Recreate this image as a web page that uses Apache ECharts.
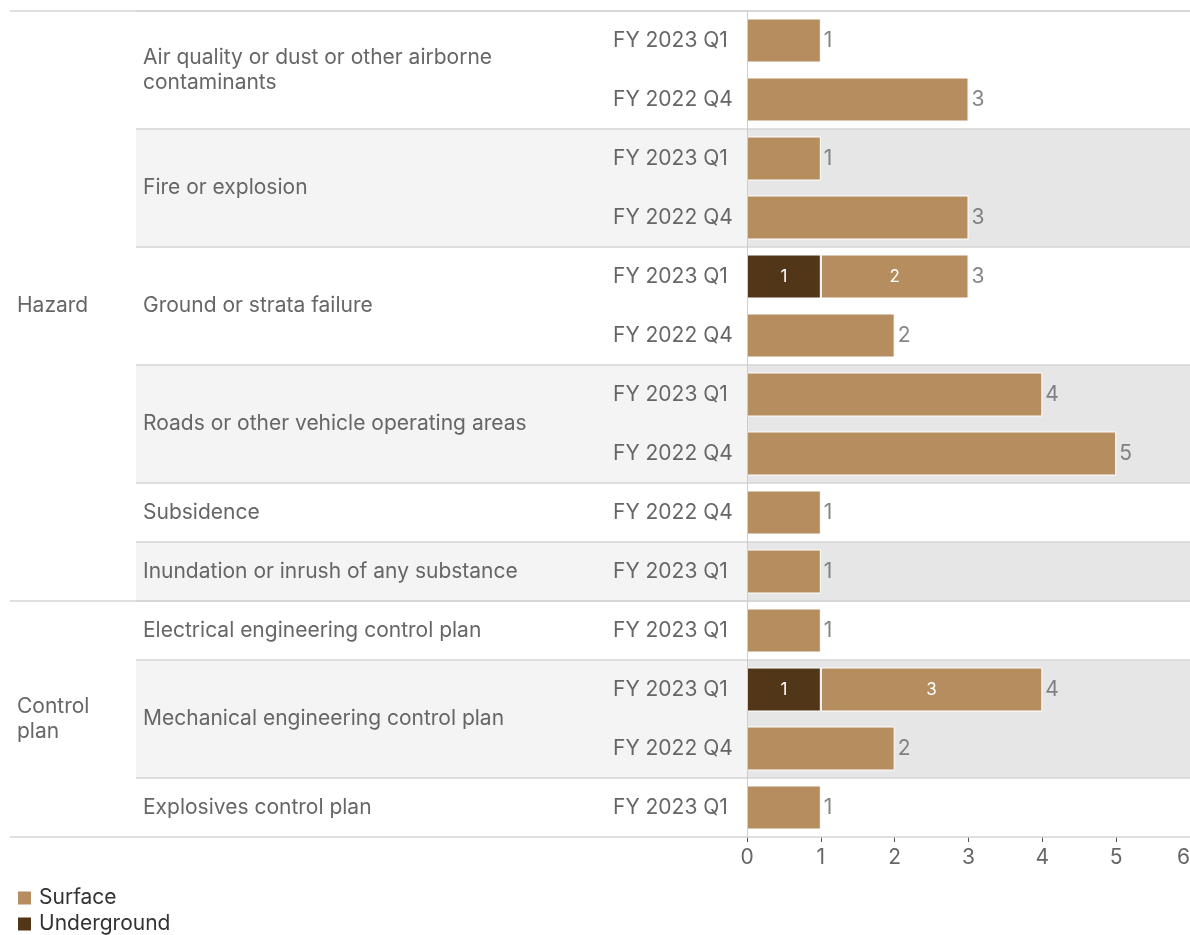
<!DOCTYPE html>
<html>
<head>
<meta charset="utf-8">
<script src="https://cdn.jsdelivr.net/npm/echarts@6/dist/echarts.min.js"></script>
<style>
  html, body { margin: 0; padding: 0; background: #fff; }
  #main { width: 1190px; height: 935px; }
</style>
</head>
<body>
<div id="main"></div>
<script>
// top level groups
var groups = ['Hazard', 'Control\nplan'];
// sub categories and the group each one is in
var subcats = [
  'Air quality or dust or other airborne\ncontaminants',
  'Fire or explosion',
  'Ground or strata failure',
  'Roads or other vehicle operating areas',
  'Subsidence',
  'Inundation or inrush of any substance',
  'Electrical engineering control plan',
  'Mechanical engineering control plan',
  'Explosives control plan'
];
var subcatGroup = [0, 0, 0, 0, 0, 0, 1, 1, 1];
// one entry per bar row
var rowSubcat = [0, 0, 1, 1, 2, 2, 3, 3, 4, 5, 6, 7, 7, 8];
var rowPeriod = [
  'FY 2023 Q1', 'FY 2022 Q4',
  'FY 2023 Q1', 'FY 2022 Q4',
  'FY 2023 Q1', 'FY 2022 Q4',
  'FY 2023 Q1', 'FY 2022 Q4',
  'FY 2022 Q4',
  'FY 2023 Q1',
  'FY 2023 Q1',
  'FY 2023 Q1', 'FY 2022 Q4',
  'FY 2023 Q1'
];
var underground = [0, 0, 0, 0, 1, 0, 0, 0, 0, 0, 0, 1, 0, 0];
var surface     = [1, 3, 1, 3, 2, 2, 4, 5, 1, 1, 1, 3, 2, 1];
var xTicks = [0, 1, 2, 3, 4, 5, 6];

var FONT = 'Inter, "Noto Sans", sans-serif';
var GREY = '#666666';
var LINE = '#d4d4d4';
var W = 1190;
var PLOT_LEFT = 747;

var chart = echarts.init(document.getElementById('main'));

// row spans for sub categories and groups
function spans(keys) {
  var out = [];
  keys.forEach(function (k, i) {
    var last = out[out.length - 1];
    if (last && last.key === k) last.end = i;
    else out.push({ key: k, start: i, end: i });
  });
  return out;
}
var subSpans = spans(rowSubcat);
var rowGroup = rowSubcat.map(function (s) { return subcatGroup[s]; });
var groupSpans = spans(rowGroup);

var rows = rowPeriod.map(function (p, i) { return String(i); });
var totals = surface.map(function (v, i) { return v + underground[i]; });

function bandY(api, start, end) {
  var h = api.size([0, 1])[1];
  var y0 = api.coord([0, start])[1] - h / 2;
  var y1 = api.coord([0, end])[1] + h / 2;
  return [y0, y1];
}

var option = {
  animation: false,
  textStyle: { fontFamily: FONT },
  grid: {
    left: PLOT_LEFT, top: 11, width: 443, height: 826,
    containLabel: false, outerBoundsMode: 'none'
  },
  legend: {
    data: ['Surface', 'Underground'],
    orient: 'vertical',
    left: 16,
    top: 887,
    height: 80,
    padding: 0,
    icon: 'rect',
    itemWidth: 15,
    itemHeight: 15,
    itemGap: 4,
    textStyle: { fontFamily: FONT, fontSize: 21, lineHeight: 22, color: '#333', padding: [0, 0, 0, 2] },
    selectedMode: false
  },
  xAxis: {
    type: 'value',
    min: 0,
    max: 6,
    interval: 1,
    axisLine: { show: false },
    axisTick: { show: true, length: 5, lineStyle: { color: '#555' } },
    splitLine: { show: false },
    axisLabel: {
      fontFamily: FONT, fontSize: 21, color: GREY, margin: 10,
      alignMaxLabel: 'right',
      formatter: function (v) { return xTicks.indexOf(v) >= 0 ? String(v) : ''; }
    }
  },
  yAxis: {
    type: 'category',
    inverse: true,
    data: rows,
    z: 5,
    axisLine: { show: true, lineStyle: { color: '#cccccc', width: 1 } },
    axisTick: { show: false },
    axisLabel: {
      fontFamily: FONT, fontSize: 21, color: GREY, margin: 134, align: 'left',
      formatter: function (v) { return rowPeriod[+v]; }
    }
  },
  series: [
    {
      // sub category bands, labels and separators
      type: 'custom',
      z: 0,
      silent: true,
      clip: false,
      data: subSpans.map(function (s, i) { return [0, s.start, s.end, s.key, i]; }),
      renderItem: function (params, api) {
        var start = api.value(1), end = api.value(2), idx = api.value(4);
        var yy = bandY(api, start, end);
        var children = [];
        if (idx % 2 === 1) {
          children.push({ type: 'rect', shape: { x: 136, y: yy[0], width: PLOT_LEFT - 136, height: yy[1] - yy[0] }, style: { fill: '#f4f4f4' } });
          children.push({ type: 'rect', shape: { x: PLOT_LEFT, y: yy[0], width: W - PLOT_LEFT, height: yy[1] - yy[0] }, style: { fill: '#e6e6e6' } });
        }
        children.push({ type: 'line', shape: { x1: 136, y1: yy[0], x2: W, y2: yy[0] }, style: { stroke: LINE, lineWidth: 1.5 } });
        children.push({
          type: 'text',
          x: 143,
          y: (yy[0] + yy[1]) / 2,
          style: {
            text: subcats[api.value(3)],
            fill: GREY,
            font: '21px ' + FONT,
            lineHeight: 25,
            verticalAlign: 'middle',
            align: 'left'
          }
        });
        return { type: 'group', children: children };
      }
    },
    {
      // top level group labels and separators
      type: 'custom',
      z: 1,
      silent: true,
      clip: false,
      data: groupSpans.map(function (g, i) { return [0, g.start, g.end, g.key, i]; }),
      renderItem: function (params, api) {
        var start = api.value(1), end = api.value(2), idx = api.value(4);
        var yy = bandY(api, start, end);
        var children = [
          { type: 'line', shape: { x1: 10, y1: yy[0], x2: W, y2: yy[0] }, style: { stroke: LINE, lineWidth: 1.5 } },
          {
            type: 'text',
            x: 17,
            y: (yy[0] + yy[1]) / 2,
            style: {
              text: groups[api.value(3)],
              fill: GREY,
              font: '21px ' + FONT,
              lineHeight: 25,
              verticalAlign: 'middle',
              align: 'left'
            }
          }
        ];
        if (idx === groupSpans.length - 1) {
          children.push({ type: 'line', shape: { x1: 10, y1: yy[1], x2: W, y2: yy[1] }, style: { stroke: LINE, lineWidth: 1.5 } });
        }
        return { type: 'group', children: children };
      }
    },
    {
      name: 'Underground',
      type: 'bar',
      stack: 'total',
      barWidth: 44,
      z: 3,
      itemStyle: { color: '#523618', borderColor: '#fff', borderWidth: 1 },
      label: {
        show: true,
        position: 'inside',
        color: '#fff',
        fontFamily: FONT,
        fontSize: 17,
        formatter: function (p) { return p.value > 0 ? String(p.value) : ''; }
      },
      data: underground.map(function (v) { return v > 0 ? v : '-'; })
    },
    {
      name: 'Surface',
      type: 'bar',
      stack: 'total',
      barWidth: 44,
      z: 3,
      itemStyle: { color: '#b58d5e', borderColor: '#fff', borderWidth: 1 },
      label: {
        show: true,
        position: 'inside',
        color: '#fff',
        fontFamily: FONT,
        fontSize: 17,
        formatter: function (p) { return underground[p.dataIndex] > 0 ? String(p.value) : ''; }
      },
      data: surface
    },
    {
      // totals at bar ends
      name: 'Total',
      type: 'scatter',
      symbolSize: 0,
      z: 4,
      silent: true,
      label: {
        show: true,
        position: 'right',
        distance: 3,
        color: GREY,
        fontFamily: FONT,
        fontSize: 21,
        formatter: function (p) { return String(p.value[0]); }
      },
      data: totals.map(function (t, i) { return [t, String(i)]; })
    }
  ]
};

chart.setOption(option);
</script>
</body>
</html>
